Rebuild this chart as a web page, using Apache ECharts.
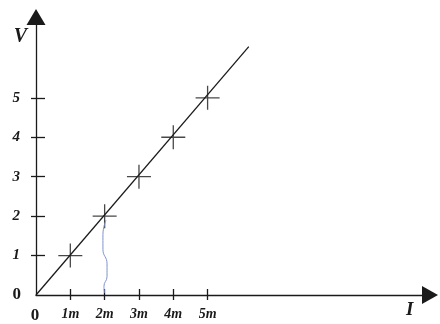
<!DOCTYPE html>
<html><head><meta charset="utf-8">
<script src="https://cdn.jsdelivr.net/npm/echarts@6/dist/echarts.min.js"></script>
<style>html,body{margin:0;padding:0;background:#fff}#c{width:440px;height:324px}</style>
</head><body><div id="c"></div>
<script>
// Data
const currents = [1, 2, 3, 4, 5];            // I (mA)
const voltages = [1, 2, 3, 4, 5];            // V
const xTickLabels = ['0', '1m', '2m', '3m', '4m', '5m'];
const yTickLabels = ['0', '1', '2', '3', '4', '5'];
const fitLineX = [0, 6.2];
const fitLineY = [0, 6.3];
// hand-drawn blue squiggle from the 2m point down to the axis
const squiggleX = [2.04, 1.95, 1.95, 2.07, 2.07, 1.98, 2.0];
const squiggleY = [1.9, 1.53, 1.16, 0.79, 0.47, 0.22, 0.05];
const xMax = 11.48, yMax = 7.05;

const chart = echarts.init(document.getElementById('c'), null, {renderer: 'canvas'});
const ink = '#1a1a1a';
const serif = '"Liberation Serif", "DejaVu Serif", serif';
const tickVals = [1, 2, 3, 4, 5];
const labelVals = [0, 1, 2, 3, 4, 5];

const baseX = {type: 'value', min: 0, max: xMax, position: 'bottom', splitLine: {show: false}, gridIndex: 0};
const baseY = {type: 'value', min: 0, max: yMax, position: 'left', splitLine: {show: false}, gridIndex: 0};

chart.setOption({
  animation: false,
  backgroundColor: '#fff',
  grid: {left: 36, right: 10, top: 17, bottom: 22, containLabel: false},
  xAxis: [
    Object.assign({}, baseX, {
      name: 'I', nameLocation: 'end', nameGap: -24,
      nameTextStyle: {fontFamily: serif, fontStyle: 'italic', fontWeight: 'bold', fontSize: 19, color: ink, verticalAlign: 'top', padding: [6, 0, 0, 0]},
      axisLine: {show: true, symbol: ['none', 'triangle'], symbolSize: [18, 16], lineStyle: {color: ink, width: 1.3}},
      axisTick: {show: true, inside: false, length: 5, customValues: tickVals, lineStyle: {color: ink, width: 1.3}},
      axisLabel: {show: true, customValues: labelVals, margin: 12,
        formatter: v => { const i = Math.round(v); return i === 0 ? '{z|0}' : '{n|' + xTickLabels[i] + '}'; },
        rich: {
          z: {fontFamily: serif, fontWeight: 'bold', fontSize: 17, color: ink, padding: [0, 2, 0, 0]},
          n: {fontFamily: serif, fontStyle: 'italic', fontWeight: 'bold', fontSize: 14, color: ink}
        }}
    }),
    Object.assign({}, baseX, {
      axisLine: {show: false},
      axisTick: {show: true, inside: true, length: 6, customValues: tickVals, lineStyle: {color: ink, width: 1.3}},
      axisLabel: {show: false}
    })
  ],
  yAxis: [
    Object.assign({}, baseY, {
      name: 'V', nameLocation: 'end', nameGap: -20,
      nameTextStyle: {fontFamily: serif, fontStyle: 'italic', fontWeight: 'bold', fontSize: 20, color: ink, align: 'right', verticalAlign: 'middle', padding: [0, 9, 0, 0]},
      axisLine: {show: true, symbol: ['none', 'triangle'], symbolSize: [19, 16], lineStyle: {color: ink, width: 1.3}},
      axisTick: {show: true, inside: false, length: 5, customValues: tickVals, lineStyle: {color: ink, width: 1.3}},
      axisLabel: {show: true, customValues: labelVals, margin: 16,
        formatter: v => { const i = Math.round(v); return i === 0 ? '{z|0}' : '{n|' + yTickLabels[i] + '}'; },
        rich: {
          z: {fontFamily: serif, fontWeight: 'bold', fontSize: 17, color: ink, padding: [0, -1, 0, 0]},
          n: {fontFamily: serif, fontStyle: 'italic', fontWeight: 'bold', fontSize: 15, color: ink}
        }}
    }),
    Object.assign({}, baseY, {
      axisLine: {show: false},
      axisTick: {show: true, inside: true, length: 9, customValues: tickVals, lineStyle: {color: ink, width: 1.3}},
      axisLabel: {show: false}
    })
  ],
  series: [
    {
      type: 'line', xAxisIndex: 0, yAxisIndex: 0, symbol: 'none', silent: true,
      data: fitLineX.map((x, i) => [x, fitLineY[i]]),
      lineStyle: {color: ink, width: 1.3}
    },
    {
      type: 'scatter', xAxisIndex: 0, yAxisIndex: 0, silent: true,
      symbol: 'path://M0,11.35H24V12.65H0Z M11.35,0H12.65V24H11.35Z',
      symbolSize: [24, 24],
      itemStyle: {color: ink},
      data: currents.map((x, i) => [x, voltages[i]])
    },
    {
      type: 'line', xAxisIndex: 0, yAxisIndex: 0, symbol: 'none', smooth: true, silent: true,
      data: squiggleX.map((x, i) => [x, squiggleY[i]]),
      lineStyle: {color: '#7f93cc', width: 1}
    }
  ]
});
</script></body></html>
